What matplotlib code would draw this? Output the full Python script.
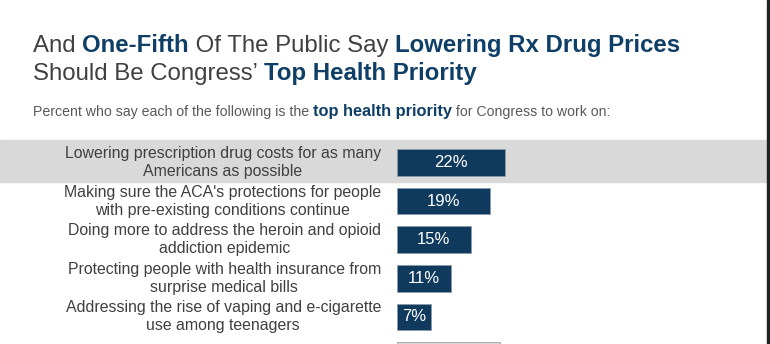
import matplotlib.pyplot as plt
from matplotlib.patches import Rectangle

labels = [
    "Lowering prescription drug costs for as many\nAmericans as possible",
    "Making sure the ACA's protections for people\nwith pre-existing conditions continue",
    "Doing more to address the heroin and opioid\naddiction epidemic",
    "Protecting people with health insurance from\nsurprise medical bills",
    "Addressing the rise of vaping and e-cigarette\nuse among teenagers",
    "",
]
values = [22, 19, 15, 11, 7, 21]
bar_colors = ["#0f3a5d"] * 5 + ["#d9d9d9"]

W, H = 770, 344
fig = plt.figure(figsize=(W / 100, H / 100), dpi=100)
plt.rcParams['font.family'] = ['Liberation Sans', 'DejaVu Sans']

GRAY = "#404040"
BLUE = "#0f3f66"

# pixel helpers
px_per_pct = 4.9
x0 = 397
row0, step = 162.5, 38.6

ax = fig.add_axes([0, 0, 767 / W, 1])
ax.set_xlim(-x0 / px_per_pct, (767 - x0) / px_per_pct)
ax.set_ylim((H - row0) / step, -row0 / step)
ax.axis("off")

# highlighted first row
ax.axhspan(-0.58, 0.51, color="#d9d9d9", zorder=0)

for i, (lab, v) in enumerate(zip(labels, values)):
    ax.barh(i, v, height=0.69, left=0, color=bar_colors[i],
            edgecolor="#8a9aa8" if i < 5 else "#a0a0a0", linewidth=0.6, zorder=2)
    if lab:
        ax.text(-16 / px_per_pct, i, lab, ha="right", va="center", multialignment="center",
                fontsize=11.4, color=GRAY, linespacing=1.24)
        ax.text(v / 2, i, f"{v}%", ha="center", va="center", color="white", fontsize=12, zorder=3)

# dark strip at right edge
fig.patches.append(Rectangle((767 / W, 0), 3 / W, 1, transform=fig.transFigure,
                             color="#222222", zorder=5))

fig.canvas.draw()
renderer = fig.canvas.get_renderer()


def mixed_line(x, y, parts):
    # draw a line of text pieces one after another
    for txt, bold, color, size in parts:
        t = fig.text(x / W, 1 - y / H, txt, fontsize=size, color=color,
                     fontweight="bold" if bold else "normal", va="baseline", ha="left")
        bb = t.get_window_extent(renderer)
        x += bb.width


mixed_line(33, 52, [("And ", False, GRAY, 17.3), ("One-Fifth", True, BLUE, 17.3),
                    (" Of The Public Say ", False, GRAY, 17.3),
                    ("Lowering Rx Drug Prices", True, BLUE, 17.3)])
mixed_line(33, 80, [("Should Be Congress’ ", False, GRAY, 17.3),
                    ("Top Health Priority", True, BLUE, 17.3)])
mixed_line(33, 116, [("Percent who say each of the following is the ", False, "#595959", 10.2),
                     ("top health priority", True, BLUE, 11.8),
                     (" for Congress to work on:", False, "#595959", 10.2)])

fig.savefig("out.png", dpi=100)
